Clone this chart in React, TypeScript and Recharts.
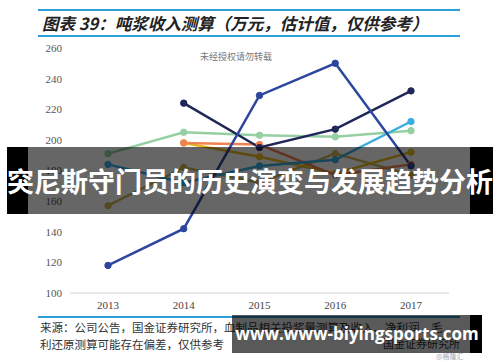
import { CartesianGrid, Line, LineChart, XAxis, YAxis } from "recharts";

const years = ["2013", "2014", "2015", "2016", "2017"];
const yTicks = [100, 120, 140, 160, 180, 200, 220, 240, 260];

const blueSeries = [118, 142, 229, 250, 183];
const navySeries = [null, 224, 195, 207, 232];
const greenSeries = [191, 205, 203, 202, 206];
const orangeSeries = [null, 198, 197, 177, 184];
const yellowSeries = [null, 198, 189, 178, 192];
const khakiSeries = [157, 182, 172, 191, 177];
const cyanSeries = [184, 172, 183, 187, 212];

const seriesList = [
  { key: "khaki", values: khakiSeries, color: "#cdb65a" },
  { key: "yellow", values: yellowSeries, color: "#e9b820" },
  { key: "orange", values: orangeSeries, color: "#ef8350" },
  { key: "green", values: greenSeries, color: "#95cfa2" },
  { key: "cyan", values: cyanSeries, color: "#3aaee0" },
  { key: "navy", values: navySeries, color: "#1e2757" },
  { key: "blue", values: blueSeries, color: "#2d479e" }
];

const data = years.map((year, i) => {
  const row: Record<string, string | number | null> = { year };
  seriesList.forEach((s) => {
    row[s.key] = s.values[i];
  });
  return row;
});

const serif = "'Liberation Serif', 'DejaVu Serif', serif";
const cjk = "'Noto Sans CJK SC', sans-serif";

const rule = (top: number) => (
  <div
    style={{
      position: "absolute",
      left: 38,
      top,
      width: 422,
      height: 2,
      background: "#2c9fd9"
    }}
  />
);

export default function App() {
  return (
    <div style={{ position: "relative", width: 500, height: 362, background: "#fff", overflow: "hidden" }}>
      <style>{`body{margin:0}`}</style>
      {rule(9)}
      {rule(35)}
      <div
        style={{
          position: "absolute",
          left: 42,
          top: 11,
          fontFamily: cjk,
          fontStyle: "italic",
          fontWeight: 700,
          fontSize: 16.5,
          color: "#222",
          whiteSpace: "nowrap"
        }}
      >
        图表 39：吨浆收入测算（万元，估计值，仅供参考）
      </div>

      <LineChart
        width={500}
        height={362}
        data={data}
        margin={{ top: 48, right: 51, bottom: 39, left: 0 }}
        style={{ position: "absolute", left: 0, top: 0 }}
      >
        <CartesianGrid stroke="none" />
        <XAxis
          dataKey="year"
          padding={{ left: 38, right: 38 }}
          height={30}
          tickLine={false}
          axisLine={{ stroke: "#d4d4d4" }}
          tick={{ fontSize: 11, fill: "#444", fontFamily: serif }}
        />
        <YAxis
          domain={[100, 260]}
          ticks={yTicks}
          width={70}
          axisLine={false}
          tickLine={false}
          tick={{ fontSize: 11, fill: "#555", fontFamily: serif }}
        />
        {seriesList.map((s) => (
          <Line
            key={s.key}
            dataKey={s.key}
            stroke={s.color}
            strokeWidth={2.5}
            dot={{ r: 3.2, fill: s.color, stroke: s.color, strokeWidth: 1 }}
            isAnimationActive={false}
          />
        ))}
      </LineChart>

      <div
        style={{
          position: "absolute",
          left: 200,
          top: 50,
          fontFamily: cjk,
          fontSize: 9,
          color: "#777"
        }}
      >
        未经授权请勿转载
      </div>

      {rule(316)}
      <div
        style={{
          position: "absolute",
          left: 40,
          top: 319,
          fontFamily: cjk,
          fontSize: 11.5,
          lineHeight: "17px",
          color: "#333",
          whiteSpace: "nowrap"
        }}
      >
        <div>来源：公司公告，国金证券研究所，血制品相关投浆量测算及收入、净利润、毛</div>
        <div>利还原测算可能存在偏差，仅供参考</div>
      </div>
      <div
        style={{
          position: "absolute",
          left: 383,
          top: 335,
          fontFamily: cjk,
          fontSize: 11,
          color: "#333"
        }}
      >
        国金证券研究所
      </div>
      <div style={{ position: "absolute", left: 232, top: 315, width: 238, height: 38, background: "rgba(0,0,0,0.65)" }} />
      <div style={{ position: "absolute", left: 470, top: 315, width: 12, height: 38, background: "#000" }} />
      <div
        style={{
          position: "absolute",
          left: 232,
          top: 315,
          width: 250,
          height: 38,
          lineHeight: "38px",
          textAlign: "center",
          fontFamily: "'Open Sans', sans-serif",
          fontWeight: 700,
          fontSize: 17,
          color: "#fff",
          whiteSpace: "nowrap"
        }}
      >
        www.www-biyingsports.com
      </div>
      <div
        style={{
          position: "absolute",
          left: 436,
          top: 351,
          fontFamily: cjk,
          fontSize: 7,
          color: "#aaa"
        }}
      >
        @格隆汇
      </div>

      <div style={{ position: "absolute", left: 7, top: 147, width: 21, height: 67, background: "#000" }} />
      <div style={{ position: "absolute", left: 28, top: 147, width: 442, height: 67, background: "rgba(0,0,0,0.6)" }} />
      <div style={{ position: "absolute", left: 470, top: 147, width: 23, height: 67, background: "#000" }} />
      <div
        style={{
          position: "absolute",
          left: 7,
          top: 147,
          width: 486,
          height: 67,
          lineHeight: "67px",
          textAlign: "center",
          fontFamily: cjk,
          fontWeight: 700,
          fontSize: 27,
          color: "#fff",
          whiteSpace: "nowrap"
        }}
      >
        突尼斯守门员的历史演变与发展趋势分析
      </div>
    </div>
  );
}
